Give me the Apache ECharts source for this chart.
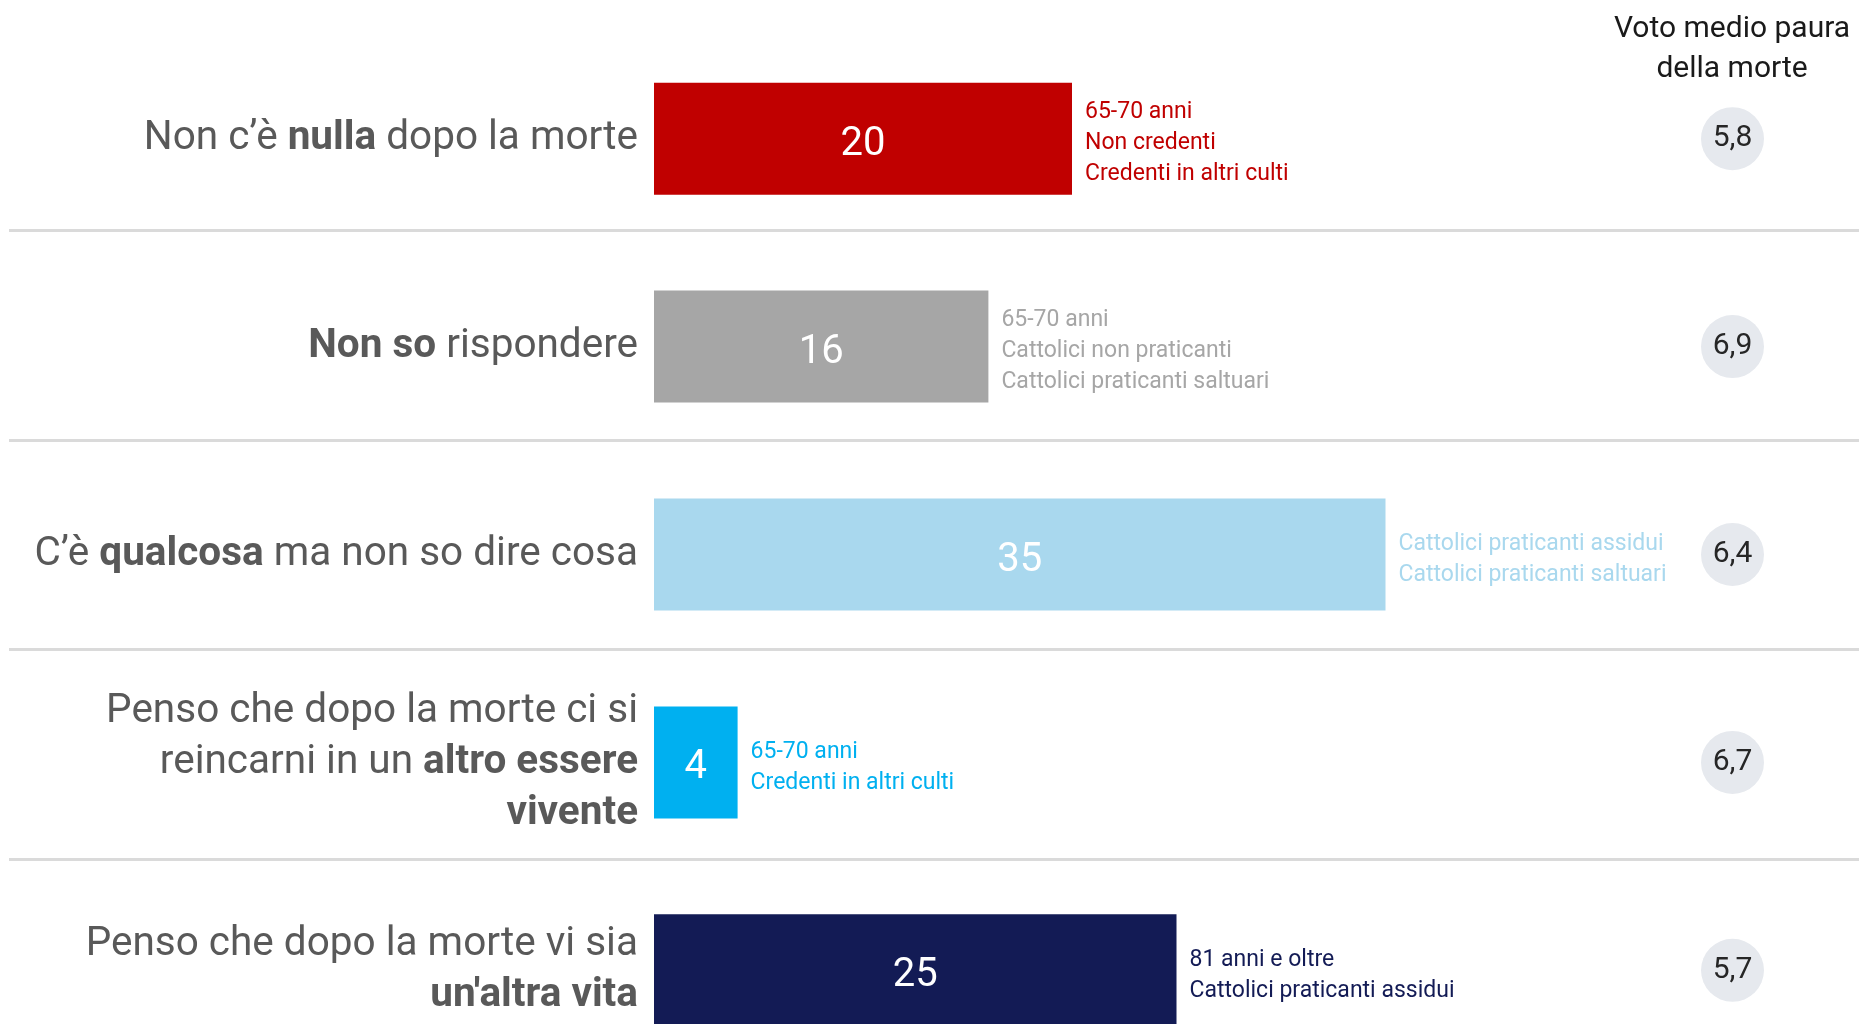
<!DOCTYPE html>
<html>
<head>
<meta charset="utf-8">
<style>
  html, body { margin: 0; padding: 0; background: #fff; overflow: hidden; }
  #chart { width: 1859px; height: 1090px; }
</style>
<script src="https://cdn.jsdelivr.net/npm/echarts@6/dist/echarts.min.js"></script>
</head>
<body>
<div id="chart"></div>
<script>
// categorie (con parti in grassetto marcate {b|...})
var categories = [
  'Non c’è {b|nulla} dopo la morte',
  '{b|Non so} rispondere',
  'C’è {b|qualcosa} ma non so dire cosa',
  'Penso che dopo la morte ci si\nreincarni in un {b|altro essere}\n{b|vivente}',
  'Penso che dopo la morte vi sia\n{b|un\'altra vita}'
];
var values = [20, 16, 35, 4, 25];
var votes = [5.8, 6.9, 6.4, 6.7, 5.7];
var notes = [
  ['65-70 anni', 'Non credenti', 'Credenti in altri culti'],
  ['65-70 anni', 'Cattolici non praticanti', 'Cattolici praticanti saltuari'],
  ['Cattolici praticanti assidui', 'Cattolici praticanti saltuari'],
  ['65-70 anni', 'Credenti in altri culti'],
  ['81 anni e oltre', 'Cattolici praticanti assidui']
];
var colors = ['#c00000', '#a6a6a6', '#a9d8ee', '#00b0f0', '#131b55'];

var font = 'Roboto';
var chart = echarts.init(document.getElementById('chart'));

var voteLabels = votes.map(function (v) { return v.toFixed(1).replace('.', ','); });

var option = {
  animation: false,
  textStyle: { fontFamily: font },
  title: {
    text: 'Voto medio paura\ndella morte',
    left: 1732,
    top: 9,
    padding: 0,
    textAlign: 'center',
    textStyle: { fontFamily: font, fontSize: 30, fontWeight: 'normal', color: '#1a1a1a', lineHeight: 40 }
  },
  grid: [
    { left: 654, top: 34.75, width: 1045, height: 1039.5 },
    // griglia solo per le linee di separazione
    { left: 9, right: 0, top: 230.7, height: 838 }
  ],
  xAxis: [
    { gridIndex: 0, type: 'value', min: 0, max: 50, show: false },
    { gridIndex: 1, type: 'value', min: 0, max: 1, show: false }
  ],
  yAxis: [
    {
      gridIndex: 0, type: 'category', inverse: true, data: categories,
      axisLine: { show: false }, axisTick: { show: false }, splitLine: { show: false },
      axisLabel: {
        interval: 0, margin: 16, fontSize: 40.5, color: '#595959', lineHeight: 51, fontFamily: font,
        align: 'right',
        rich: { b: { fontWeight: 'bold', fontSize: 40.5, color: '#595959', lineHeight: 51, fontFamily: font } }
      }
    },
    {
      gridIndex: 0, type: 'category', inverse: true, position: 'right', data: voteLabels,
      axisLine: { show: false }, axisTick: { show: false }, splitLine: { show: false },
      axisLabel: {
        interval: 0, margin: 2, align: 'left',
        formatter: function (v) { return '{c|' + v + '}'; },
        rich: {
          c: {
            width: 63, height: 63, lineHeight: 63, borderRadius: 31.5,
            backgroundColor: '#e6e9ee', align: 'center',
            fontSize: 30, color: '#262626', fontFamily: font
          }
        }
      }
    },
    {
      gridIndex: 1, type: 'category', data: categories.slice(0, 4),
      axisLine: { show: false }, axisTick: { show: false }, axisLabel: { show: false },
      splitLine: { show: true, lineStyle: { color: '#dadada', width: 3 } }
    }
  ],
  series: [
    {
      type: 'bar', xAxisIndex: 0, yAxisIndex: 0, barWidth: 112,
      data: values.map(function (v, i) {
        return { value: v, itemStyle: { color: colors[i] } };
      }),
      label: { show: true, position: 'inside', offset: [0, 6], color: '#fff', fontSize: 40, fontFamily: font }
    },
    {
      type: 'bar', xAxisIndex: 0, yAxisIndex: 0, barWidth: 112, barGap: '-100%',
      silent: true,
      itemStyle: { color: 'rgba(0,0,0,0)' },
      data: values.map(function (v, i) {
        return {
          value: v,
          label: {
            color: colors[i],
            formatter: notes[i].join('\n')
          }
        };
      }),
      label: { show: true, position: 'right', distance: 13, offset: [0, 5], fontSize: 23, lineHeight: 31, fontFamily: font, align: 'left' }
    }
  ]
};

chart.setOption(option);
</script>
</body>
</html>
